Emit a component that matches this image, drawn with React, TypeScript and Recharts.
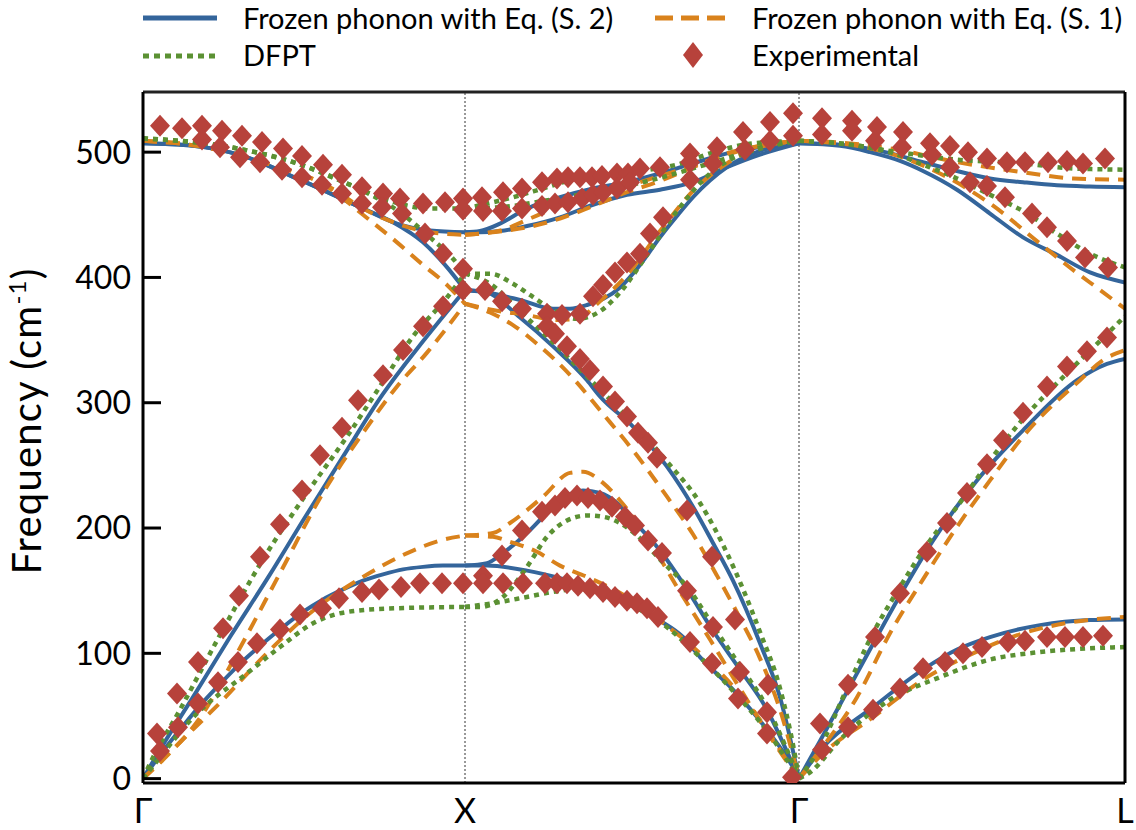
import React from 'react';
import { ComposedChart, Line, Scatter, XAxis, YAxis, ReferenceLine } from 'recharts';

type Pt = [number, number];

// k-path coordinate: Γ = 0, X = 322, Γ = 656, L = 982
const kTicks = [0, 322, 656, 982];
const kLabels = ['Γ', 'X', 'Γ', 'L'];
const fTicks = [0, 100, 200, 300, 400, 500];

// ---------- Frozen phonon with Eq. (S. 2) ----------
const s2GX_TA: Pt[] = [[0,0],[20,22],[40,42],[60,61],[80,78],[100,94],[120,108],[140,121],[160,133],[180,143],[200,151],[220,158],[240,163],[260,167],[280,169],[300,170],[322,170]];
const s2GX_LA: Pt[] = [[0,0],[20,27],[50,65],[87,113],[127,163],[160,206],[200,257],[240,307],[280,349],[322,390]];
const s2GX_TO: Pt[] = [[0,507],[50,505],[100,497],[154,479],[220,455],[254,443],[287,437.5],[322,436]];
const s2GX_LO: Pt[] = [[0,507],[50,505],[100,497],[154,479],[220,455],[250,444],[280,428],[302,410],[322,390]];
const s2XG_TA1: Pt[] = [[322,170],[344,172],[360,180],[384,196],[400,209],[417,222],[440,230],[457,228],[474,220],[490,206],[517,182],[544,151],[570,118],[597,87],[624,55],[642,25],[656,0]];
const s2XG_TA2: Pt[] = [[322,170],[344,170],[384,166],[417,160],[450,152],[484,140],[517,126],[540,113],[557,97],[590,71],[624,39],[650,9],[656,0]];
const s2XG_LA: Pt[] = [[322,390],[344,388],[377,368],[410,345],[444,318],[457,305],[490,281],[524,249],[550,217],[570,188],[590,158],[617,108],[637,65],[656,0]];
const s2XG_LO: Pt[] = [[322,390],[344,388],[377,382],[410,375],[427,375],[444,378],[477,392],[497,410],[517,432],[534,449],[550,464],[584,488],[617,501],[656,507]];
const s2XG_TO1: Pt[] = [[322,436],[337,437],[357,443],[384,455],[417,464],[450,471],[484,476],[517,483],[550,491],[584,499],[617,504],[656,507]];
const s2XG_TO2: Pt[] = [[322,436],[337,436],[357,437],[384,441],[417,448],[450,458],[484,466],[517,470],[550,476],[584,488],[617,498],[656,507]];
const s2GL_TO: Pt[] = [[656,507],[697,506],[737,501],[780,492],[814,485],[847,479],[880,476],[914,473.5],[947,472.5],[982,472]];
const s2GL_LO: Pt[] = [[656,507],[697,505],[727,500],[757,493],[780,485],[814,470],[847,451],[880,432],[914,418],[947,404],[982,396]];
const s2GL_LA: Pt[] = [[656,0],[677,30],[714,84],[754,142],[790,190],[834,238],[880,278],[934,318],[964,331],[982,335]];
const s2GL_TA: Pt[] = [[656,0],[680,25],[730,57],[780,87],[814,103],[847,113],[897,122.5],[947,126.5],[982,127]];

// ---------- Frozen phonon with Eq. (S. 1) ----------
const s1GX_TA: Pt[] = [[0,0],[37,29],[80,63],[120,97],[170,134],[220,161],[270,182],[297,190],[322,194]];
const s1GX_LA: Pt[] = [[0,0],[20,15],[60,52],[94,100],[137,164],[180,228],[220,276],[254,313],[284,340],[304,360],[322,379]];
const s1GX_TO: Pt[] = [[0,509],[54,505],[120,492],[187,472],[220,455],[254,443],[287,436],[322,434]];
const s1GX_LO: Pt[] = [[0,509],[54,505],[120,492],[187,471],[220,450],[254,428],[280,410],[304,394],[322,379]];
const s1XG_TA1: Pt[] = [[322,194],[350,196],[367,204],[400,225],[427,244],[440,245],[460,236],[477,222],[500,198],[534,153],[567,111],[600,68],[634,25],[656,0]];
const s1XG_TA2: Pt[] = [[322,194],[350,193],[367,189],[394,181],[417,170],[444,161],[484,145],[517,126],[550,105],[584,79],[617,47],[650,7],[656,0]];
const s1XG_LA: Pt[] = [[322,379],[347,372],[370,362],[394,347],[420,328],[434,316],[457,294],[490,262],[524,225],[550,195],[574,162],[597,128],[617,96],[637,55],[656,0]];
const s1XG_LO: Pt[] = [[322,379],[350,374],[384,370],[414,366],[434,367],[457,381],[484,402],[517,437],[550,469],[584,491],[617,504],[656,509]];
const s1XG_TO1: Pt[] = [[322,434],[360,438],[384,446],[417,457],[450,466],[484,473],[517,481],[550,489],[584,498],[617,505],[656,509]];
const s1XG_TO2: Pt[] = [[322,434],[360,437],[384,440],[417,447],[450,457],[484,468],[517,477],[550,488],[584,499],[617,505],[656,509]];
const s1GL_TO: Pt[] = [[656,509],[707,507],[747,503],[814,492],[880,484],[930,479],[982,478]];
const s1GL_LO: Pt[] = [[656,509],[707,506],[747,499],[797,483],[847,459],[897,427],[930,406],[957,390],[982,375]];
const s1GL_LA: Pt[] = [[656,0],[667,12],[714,65],[747,116],[780,159],[814,201],[847,238],[880,273],[937,318],[960,334],[982,342]];
const s1GL_TA: Pt[] = [[656,0],[680,20],[730,49],[780,79],[830,100],[880,116],[930,125],[982,129]];

// ---------- DFPT ----------
const dfGX_TA: Pt[] = [[0,0],[7,7],[54,52],[104,84],[137,105],[170,124],[204,133],[254,136],[322,137]];
const dfGX_LA: Pt[] = [[0,0],[7,12],[37,55],[80,119],[120,175],[164,228],[204,273],[237,313],[270,353],[304,384],[322,403]];
const dfGX_TO: Pt[] = [[0,511],[87,504],[154,491],[204,475],[247,461],[287,455],[322,455]];
const dfGX_LO: Pt[] = [[0,511],[87,504],[154,491],[204,475],[257,452],[287,432],[310,415],[322,403]];
const dfXG_TA1: Pt[] = [[322,137],[337,137],[360,145],[384,169],[404,193],[424,206],[444,210],[460,209],[477,204],[494,194],[517,175],[547,150],[570,122],[597,90],[624,57],[656,0]];
const dfXG_TA2: Pt[] = [[322,137],[350,140],[384,145],[410,149],[430,151],[450,150],[484,140],[517,125],[557,97],[590,70],[624,38],[656,0]];
const dfXG_LA: Pt[] = [[322,403],[347,395],[377,373],[410,348],[444,321],[464,305],[490,284],[524,253],[557,220],[584,180],[617,117],[637,72],[650,27],[656,0]];
const dfXG_LO: Pt[] = [[322,403],[347,403],[370,395],[387,386],[410,374],[434,367],[457,373],[477,388],[504,418],[534,453],[567,483],[600,499],[634,507],[656,509]];
const dfXG_TO1: Pt[] = [[322,455],[370,464],[400,471],[434,479],[467,483],[507,486],[534,490],[567,499],[610,507],[656,509]];
const dfXG_TO2: Pt[] = [[322,455],[357,456],[400,461],[450,468],[500,476],[550,487],[600,499],[634,506],[656,509]];
const dfGL_TO: Pt[] = [[656,509],[707,506],[747,501],[814,494],[880,491],[930,487],[982,486]];
const dfGL_LO: Pt[] = [[656,509],[707,506],[747,500],[780,490],[814,479],[847,466],[880,453],[914,435],[947,419],[982,408]];
const dfGL_LA: Pt[] = [[656,0],[677,25],[704,72],[730,116],[757,153],[787,190],[814,217],[847,254],[880,287],[917,318],[954,347],[982,369]];
const dfGL_TA: Pt[] = [[656,0],[667,5],[697,31],[747,63],[797,81],[847,95],[897,101],[947,104],[982,105]];

// ---------- Experimental ----------
const expGX_optA: Pt[] = [[17,521],[39,519],[59,521],[79,517],[99,513],[119,508],[140,503],[159,497],[180,490],[199,482],[219,472],[240,467],[257,463],[280,459],[302,460],[320,463]];
const expGX_optB: Pt[] = [[59,510],[77,504],[97,496],[117,492],[139,486],[159,480],[179,474],[199,467],[219,459],[239,456],[259,451],[320,454]];
const expGX_LO: Pt[] = [[282,435],[300,419],[320,407]];
const expGX_LA: Pt[] = [[14,36],[34,68],[55,93],[80,120],[96,146],[117,177],[137,203],[159,230],[177,258],[199,280],[215,302],[240,322],[260,342],[280,361],[300,377],[320,390]];
const expGX_TA: Pt[] = [[17,22],[35,41],[55,60],[75,77],[95,93],[114,108],[137,119],[157,131],[179,136],[196,144],[219,149],[236,151],[258,153],[277,156],[299,156],[320,156]];
const expXG_optA: Pt[] = [[339,464],[360,468],[379,471],[399,476],[414,479],[425,480],[437,480],[449,480],[459,481],[474,483],[485,483],[497,487],[517,488],[547,499],[574,504],[600,516],[627,524],[650,531]];
const expXG_optB: Pt[] = [[340,453],[359,453],[379,455],[399,457],[412,459],[425,460],[439,463],[450,466],[460,468],[474,471],[487,476],[547,492],[570,491],[602,502],[627,509],[650,513]];
const expXG_LO: Pt[] = [[342,390],[359,381],[379,375],[404,371],[419,370],[437,371],[450,385],[460,394],[472,404],[484,412],[497,419],[507,435],[520,448],[547,478]];
const expXG_LA: Pt[] = [[404,361],[412,355],[424,345],[437,335],[447,326],[460,313],[472,301],[484,289],[495,276],[505,268],[514,256],[544,214],[569,177],[592,127],[625,75]];
const expXG_TA1: Pt[] = [[359,178],[379,198],[399,213],[412,218],[422,224],[434,226],[445,224],[457,222],[469,217],[482,209],[492,202],[505,190],[519,180],[544,150],[570,121],[597,85],[624,53]];
const expXG_TA2: Pt[] = [[340,162],[340,156],[360,156],[380,156],[402,156],[414,156],[424,156],[435,154],[447,152],[460,149],[472,145],[484,142],[494,140],[504,136],[515,129],[547,109],[569,92],[595,64],[624,36],[649,1]];
const expGL_optA: Pt[] = [[679,527],[709,525],[734,520],[760,516],[787,507],[807,505],[825,500],[844,495],[864,492],[882,492],[905,492],[924,493],[940,491],[962,495]];
const expGL_optB: Pt[] = [[679,514],[709,517],[732,509],[759,504],[789,498],[807,488],[827,476],[844,473],[862,464],[889,451],[904,440],[924,429],[942,416],[965,408]];
const expGL_LA: Pt[] = [[677,44],[705,75],[732,113],[757,148],[784,181],[804,204],[824,228],[844,251],[860,270],[880,292],[904,313],[924,329],[944,341],[964,352]];
const expGL_TA: Pt[] = [[679,23],[705,41],[730,55],[757,72],[780,88],[802,93],[820,100],[839,105],[865,109],[882,110],[904,113],[922,113],[940,113],[960,114]];

const s2Branches = [s2GX_TA, s2GX_LA, s2GX_TO, s2GX_LO, s2XG_TA1, s2XG_TA2, s2XG_LA, s2XG_LO, s2XG_TO1, s2XG_TO2, s2GL_TO, s2GL_LO, s2GL_LA, s2GL_TA];
const s1Branches = [s1GX_TA, s1GX_LA, s1GX_TO, s1GX_LO, s1XG_TA1, s1XG_TA2, s1XG_LA, s1XG_LO, s1XG_TO1, s1XG_TO2, s1GL_TO, s1GL_LO, s1GL_LA, s1GL_TA];
const dfBranches = [dfGX_TA, dfGX_LA, dfGX_TO, dfGX_LO, dfXG_TA1, dfXG_TA2, dfXG_LA, dfXG_LO, dfXG_TO1, dfXG_TO2, dfGL_TO, dfGL_LO, dfGL_LA, dfGL_TA];
const expGroups = [expGX_optA, expGX_optB, expGX_LO, expGX_LA, expGX_TA, expXG_optA, expXG_optB, expXG_LO, expXG_LA, expXG_TA1, expXG_TA2, expGL_optA, expGL_optB, expGL_LA, expGL_TA];

const BLUE = '#34659b';
const ORANGE = '#d9821c';
const GREEN = '#5b9133';
const RED = '#b7423b';
const FONT = 'Lato, "Open Sans", sans-serif';

const rows = (b: Pt[]) => b.map(([k, f]) => ({ k, f }));
const expRows = expGroups.flat().map(([k, f]) => ({ k, f }));

const Diamond = (props: any) => {
  const { cx, cy } = props;
  if (cx == null || cy == null) return null;
  return (
    <polygon
      points={`${cx},${cy - 11} ${cx + 10},${cy} ${cx},${cy + 11} ${cx - 10},${cy}`}
      fill={RED}
    />
  );
};

const YLabel = () => {
  const x = 41;
  const y = 421;
  return (
    <text x={x} y={y} transform={`rotate(-90 ${x} ${y})`} textAnchor="middle" fontSize={40} letterSpacing={1.2} fontFamily={FONT} fill="#000">
      Frequency (cm<tspan dy={-15} fontSize={24}>-1</tspan><tspan dy={15}>)</tspan>
    </text>
  );
};

const LegendBox = () => (
  <svg width={1136} height={80} style={{ position: 'absolute', left: 0, top: 0 }}>
    <line x1={143} y1={18} x2={217} y2={18} stroke={BLUE} strokeWidth={5} />
    <text x={243} y={29} fontSize={29} fontFamily={FONT} fill="#000">Frozen phonon with Eq. (S. 2)</text>
    <line x1={655} y1={18} x2={725} y2={18} stroke={ORANGE} strokeWidth={5} strokeDasharray="18 8" />
    <text x={752} y={29} fontSize={29} fontFamily={FONT} fill="#000">Frozen phonon with Eq. (S. 1)</text>
    <line x1={143} y1={56} x2={217} y2={56} stroke={GREEN} strokeWidth={5} strokeDasharray="6 5" />
    <text x={243} y={66} fontSize={29} fontFamily={FONT} fill="#000">DFPT</text>
    <polygon points="693,42 703,55 693,68 683,55" fill={RED} />
    <text x={752} y={66} fontSize={29} fontFamily={FONT} fill="#000">Experimental</text>
  </svg>
);

const lineEls = (branches: Pt[][], color: string, width: number, dash: string | undefined, prefix: string) =>
  branches.map((b, i) => (
    <Line
      key={prefix + i}
      data={rows(b)}
      dataKey="f"
      type="monotone"
      stroke={color}
      strokeWidth={width}
      strokeDasharray={dash}
      dot={false}
      activeDot={false}
      isAnimationActive={false}
      legendType="none"
    />
  ));

export default function App() {
  return (
    <div style={{ position: 'absolute', left: 0, top: 0, width: 1136, height: 830, background: '#fff' }}>
      <ComposedChart width={1136} height={830} margin={{ top: 92, right: 9, bottom: 2, left: 63 }}>
        <XAxis
          dataKey="k"
          type="number"
          domain={[0, 982]}
          ticks={kTicks}
          tickFormatter={(v: number) => kLabels[kTicks.indexOf(v)] ?? ''}
          tickLine={false}
          tickSize={0}
          tickMargin={16}
          height={45}
          axisLine={{ stroke: '#000', strokeWidth: 3 }}
          tick={{ fontSize: 34, fontFamily: FONT, fill: '#000' }}
          allowDataOverflow
        />
        <YAxis
          yAxisId={0}
          dataKey="f"
          type="number"
          domain={[-3.5, 548]}
          ticks={fTicks}
          allowDataOverflow
          width={80}
          tickSize={-18}
          tickMargin={30}
          tickLine={{ stroke: '#000', strokeWidth: 3 }}
          axisLine={{ stroke: '#000', strokeWidth: 3 }}
          tick={{ fontSize: 32, fontFamily: FONT, fill: '#000' }}
          label={<YLabel />}
        />
        <YAxis
          yAxisId="r"
          orientation="right"
          type="number"
          domain={[-3.5, 548]}
          ticks={fTicks}
          allowDataOverflow
          width={2}
          tickSize={-18}
          tick={false}
          tickLine={{ stroke: '#000', strokeWidth: 3 }}
          axisLine={{ stroke: '#000', strokeWidth: 3 }}
        />
        <ReferenceLine y={548} stroke="#222" strokeWidth={3} />
        <ReferenceLine x={322} stroke="#333" strokeWidth={1} strokeDasharray="2 2" />
        <ReferenceLine x={656} stroke="#333" strokeWidth={1} strokeDasharray="2 2" />
        {lineEls(s2Branches, BLUE, 4, undefined, 's2')}
        {lineEls(s1Branches, ORANGE, 4, '14 9', 's1')}
        {lineEls(dfBranches, GREEN, 4.5, '5 5', 'df')}
        <Scatter data={expRows} dataKey="f" shape={<Diamond />} isAnimationActive={false} legendType="none" />
      </ComposedChart>
      <LegendBox />
    </div>
  );
}
